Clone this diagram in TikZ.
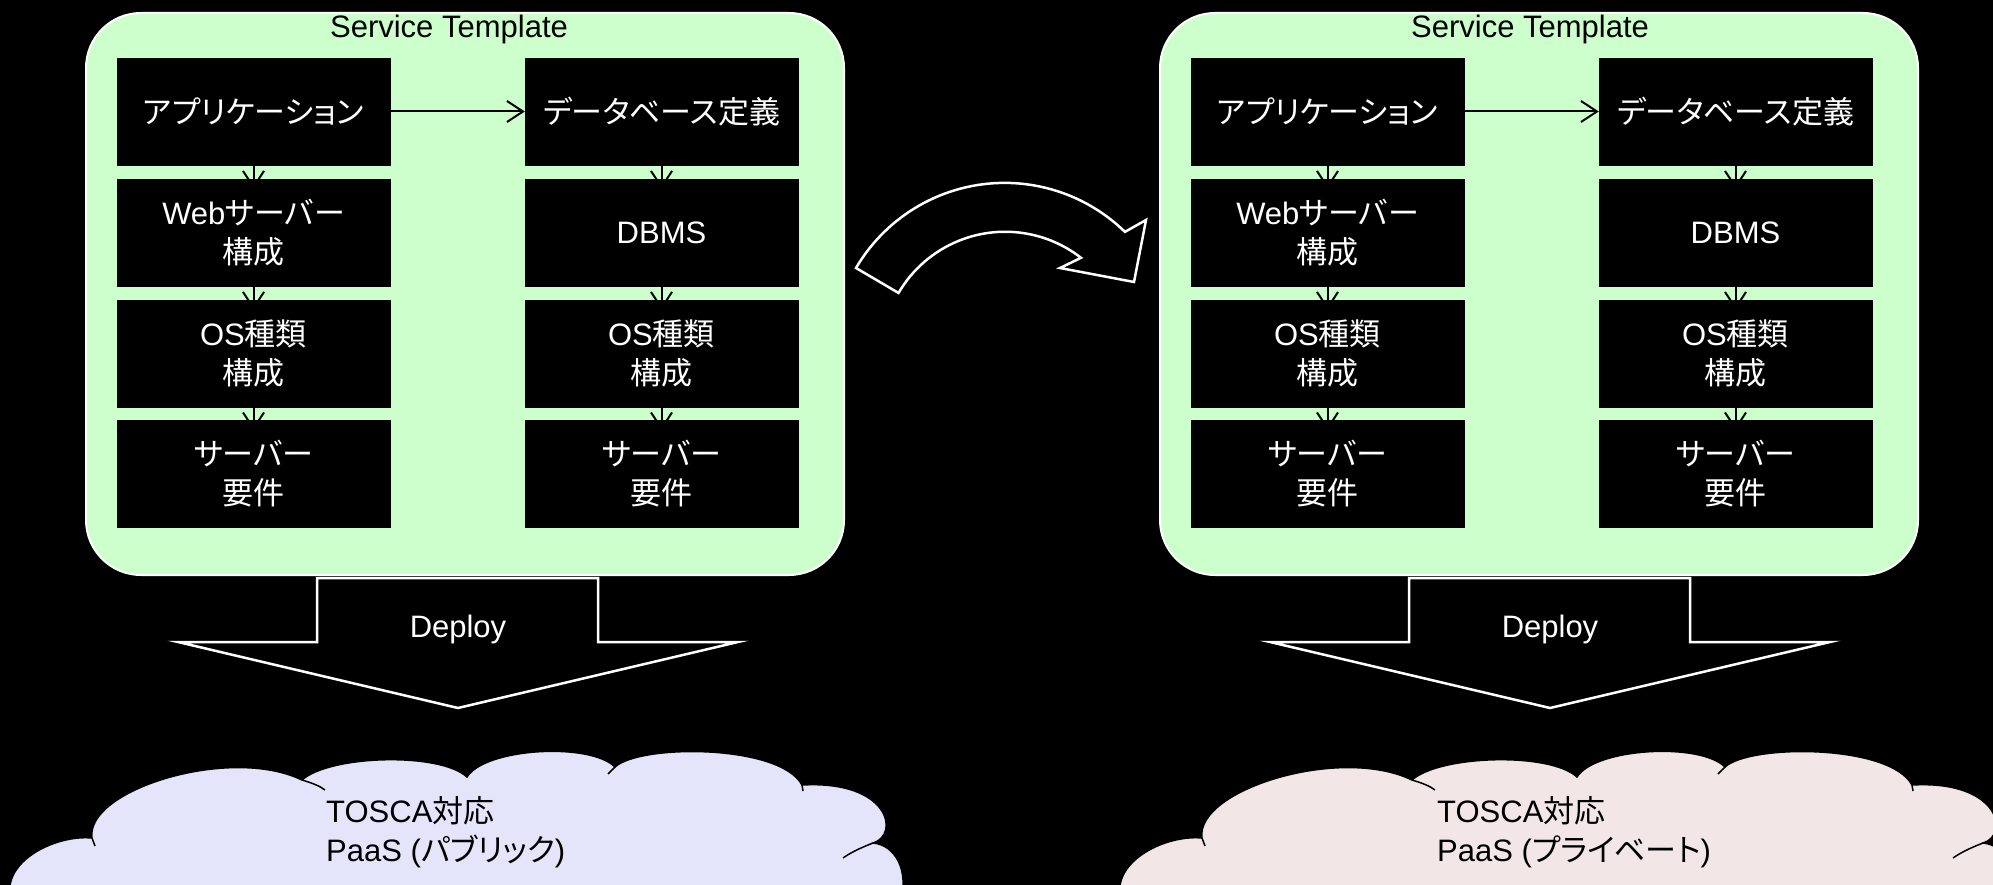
\documentclass[tikz,border=0pt]{standalone}
\usepackage{fontspec}
\setmainfont{Liberation Sans}
\newfontfamily\jp[RawFeature={+palt}]{Noto Sans CJK JP}
\usetikzlibrary{arrows.meta}
\pgfdeclarelayer{bg}
\pgfsetlayers{bg,main}
\definecolor{stgreen}{RGB}{204,255,204}
\definecolor{cloudblue}{RGB}{228,228,250}
\definecolor{cloudpink}{RGB}{242,230,230}
\newcommand{\mycloudpath}{(5,905) -- (10,885) .. controls (15,855) and (60,835) .. (92,838)
  .. controls (85,790) and (230,745) .. (302,780)
  .. controls (330,755) and (440,752) .. (467,777)
  .. controls (485,748) and (590,742) .. (615,767)
  .. controls (640,744) and (780,744) .. (802,785)
  .. controls (890,780) and (900,835) .. (873,843)
  .. controls (895,845) and (910,870) .. (900,905) -- cycle}
\newcommand{\mycloudticks}{(302,780) .. controls (312,783) and (320,786) .. (325,790)
  (92,838) -- (95,846) (615,767) -- (608,774) (802,785) -- (803,791)
  (873,843) .. controls (860,848) and (850,853) .. (843,858)}
\begin{document}
\begin{tikzpicture}[x=1pt,y=-1pt,
  every node/.style={font=\fontsize{31}{39}\selectfont, align=center, inner sep=0pt},
  blk/.style={fill=black, draw=black, minimum width=273pt, minimum height=107pt, text=white},
  stbox/.style={draw=white, fill=stgreen, line width=2pt, rounded corners=55pt, minimum width=758pt, minimum height=562pt},
  vlink/.style={draw=black, line width=2pt, -{Straight Barb[length=16pt,width=21pt]}},
  hlink/.style={draw=black, line width=2pt, -{Straight Barb[length=16pt,width=21pt]}},
  bigarrow/.style={draw=white, fill=black, line width=2.5pt, line join=miter},
  cloudline/.style={draw=black, line width=1.5pt}
]
\useasboundingbox (0,0) rectangle (1993,885);
\begin{pgfonlayer}{bg}
  \fill[black] (0,0) rectangle (1993,885);
\end{pgfonlayer}

\foreach \s/\dx/\tx in {1/0/449, 2/1074/1530}{
  \begin{scope}[xshift=\dx pt]
    \node[blk] (a\s) at (253.5,111.5) {{\jp アプリケーション}};
    \node[blk] (w\s) at (253.5,232.5) {Web{\jp サーバー}\\{\jp 構成}};
    \node[blk] (o\s) at (253.5,353.5) {OS{\jp 種類}\\{\jp 構成}};
    \node[blk] (s\s) at (253.5,474) {{\jp サーバー}\\{\jp 要件}};
    \node[blk] (d\s) at (661.5,111.5) {{\jp データベース定義}};
    \node[blk] (m\s) at (661.5,232.5) {DBMS};
    \node[blk] (p\s) at (661.5,353.5) {OS{\jp 種類}\\{\jp 構成}};
    \node[blk] (r\s) at (661.5,474) {{\jp サーバー}\\{\jp 要件}};
    \begin{pgfonlayer}{bg}
      \node[stbox] (st\s) at (465,294) {};
      \draw[hlink] (a\s.east) -- (d\s.west);
      \draw[vlink] (a\s.south) -- ([yshift=-10pt]w\s.north);
      \draw[vlink] (w\s.south) -- ([yshift=-10pt]o\s.north);
      \draw[vlink] (o\s.south) -- ([yshift=-10pt]s\s.north);
      \draw[vlink] (d\s.south) -- ([yshift=-10pt]m\s.north);
      \draw[vlink] (m\s.south) -- ([yshift=-10pt]p\s.north);
      \draw[vlink] (p\s.south) -- ([yshift=-10pt]r\s.north);
    \end{pgfonlayer}
  \end{scope}
  \node (title\s) at (\tx,29) {Service Template};
}

% deploy arrows
\foreach \s/\dx in {1/0, 2/1092}{
  \begin{scope}[xshift=\dx pt]
    \draw[bigarrow] (317,578) -- (598,578) -- (598,642) -- (738,642) -- (458,708) -- (178,642) -- (317,642) -- cycle;
    \node[text=white] (dep\s) at (458,629) {Deploy};
  \end{scope}
}

% curved arrow between the templates
\draw[bigarrow] (856,268) arc[start angle=-149.6, end angle=-45.7, radius=172.3]
  -- (1146,220) -- (1134,282) -- (1060,268) -- (1081,257.8)
  arc[start angle=-52.1, end angle=-149.7, radius=123.5] -- cycle;

% clouds
\begin{scope}
  \clip (0,0) rectangle (1993,885);
  \filldraw[fill=cloudblue, cloudline] \mycloudpath;
  \draw[cloudline] \mycloudticks;
  \begin{scope}[xshift=1110pt]
    \filldraw[fill=cloudpink, cloudline] \mycloudpath;
    \draw[cloudline] \mycloudticks;
  \end{scope}
\end{scope}
\node[anchor=west, align=left] (cl1) at (326,832.5) {TOSCA{\jp 対応}\\PaaS ({\jp パブリック})};
\node[anchor=west, align=left] (cl2) at (1437,832.5) {TOSCA{\jp 対応}\\PaaS ({\jp プライベート})};
\end{tikzpicture}
\end{document}
